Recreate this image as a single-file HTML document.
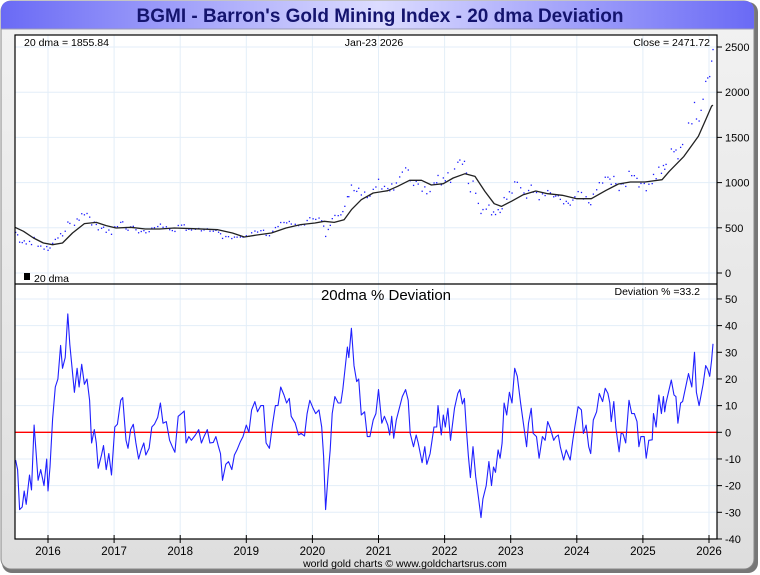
<!DOCTYPE html>
<html><head><meta charset="utf-8"><style>
html,body{margin:0;padding:0;background:#fff;}
svg{display:block;font-family:"Liberation Sans",sans-serif;}
</style></head><body>
<svg id="chart" width="760" height="575" viewBox="0 0 760 575">
<defs>
<linearGradient id="tg" x1="0" x2="1" y1="0" y2="0">
<stop offset="0" stop-color="#6a6af5"/><stop offset="0.5" stop-color="#dcdcff"/><stop offset="1" stop-color="#6a6af5"/>
</linearGradient>
<linearGradient id="bg" x1="0" x2="0" y1="0" y2="1">
<stop offset="0" stop-color="#f2f2f2"/><stop offset="1" stop-color="#dedede"/>
</linearGradient>
</defs>
<rect x="2" y="2" width="756" height="571" rx="10" fill="#777"/>
<rect x="1" y="1" width="753" height="568" rx="10" fill="url(#bg)" stroke="#888" stroke-width="1"/>
<path d="M1,29 L1,11 Q1,1 11,1 L744,1 Q754,1 754,11 L754,29 Z" fill="url(#tg)"/>
<line x1="1" y1="29" x2="754" y2="29" stroke="#9a9ab8"/>
<text x="380" y="22" text-anchor="middle" font-size="19" font-weight="bold" fill="#14146e">BGMI - Barron's Gold Mining Index - 20 dma Deviation</text>
<rect x="15" y="35" width="702" height="504" fill="#fff"/>
<g id="grid"></g>
<g id="marks"></g>
<rect x="15" y="35" width="702" height="504" fill="none" stroke="#000" stroke-width="1.2"/>
<line x1="15" y1="284" x2="717" y2="284" stroke="#000" stroke-width="1.2"/>
<text x="24" y="46" font-size="10.5" fill="#000">20 dma =  1855.84</text>
<text x="374" y="46" text-anchor="middle" font-size="10.5" fill="#000">Jan-23  2026</text>
<text x="710" y="46" text-anchor="end" font-size="10.5" fill="#000">Close = 2471.72</text>
<rect x="24" y="273" width="6" height="7" fill="#000"/>
<text x="34" y="282" font-size="10.5" fill="#000">20 dma</text>
<text x="386" y="300" text-anchor="middle" font-size="15" fill="#000">20dma  %  Deviation</text>
<text x="700" y="295" text-anchor="end" font-size="10.5" fill="#000">Deviation % =33.2</text>
<text x="405" y="567" text-anchor="middle" font-size="10.5" fill="#000">world gold charts © www.goldchartsrus.com</text>
</svg>
<script>
// ---- data ----
const yearTicks = [2016,2017,2018,2019,2020,2021,2022,2023,2024,2025,2026];
const priceTicks = [0,500,1000,1500,2000,2500];
const devTicks = [-40,-30,-20,-10,0,10,20,30,40,50];
const maDates = [2015.5,2015.63,2015.78,2015.93,2016.07,2016.22,2016.37,2016.55,2016.73,2016.88,2017.03,2017.25,2017.47,2017.69,2017.91,2018.2,2018.57,2018.79,2018.97,2019.16,2019.38,2019.6,2019.82,2020.04,2020.18,2020.33,2020.48,2020.59,2020.74,2020.92,2021.14,2021.29,2021.47,2021.65,2021.8,2021.98,2022.13,2022.31,2022.46,2022.61,2022.75,2022.86,2023.01,2023.19,2023.38,2023.56,2023.78,2024.0,2024.22,2024.44,2024.63,2024.81,2025.03,2025.29,2025.4,2025.62,2025.84,2025.95,2026.04,2026.06];
const maValues = [505,461,387,332,313,332,442,546,560,524,498,505,487,487,498,490,479,442,398,420,442,498,535,553,572,560,590,700,811,885,910,959,1025,1025,973,988,1051,1099,1069,903,767,737,793,866,907,877,859,822,822,914,984,1007,1007,1032,1125,1290,1512,1696,1846,1856];
const devDates = [2015.51,2015.54,2015.57,2015.61,2015.64,2015.67,2015.72,2015.75,2015.79,2015.85,2015.89,2015.94,2015.98,2016.0,2016.03,2016.07,2016.11,2016.15,2016.19,2016.22,2016.26,2016.3,2016.33,2016.4,2016.44,2016.47,2016.51,2016.55,2016.59,2016.63,2016.66,2016.7,2016.73,2016.76,2016.81,2016.84,2016.88,2016.92,2016.96,2017.01,2017.05,2017.1,2017.13,2017.18,2017.21,2017.25,2017.29,2017.33,2017.37,2017.41,2017.45,2017.48,2017.53,2017.57,2017.61,2017.66,2017.7,2017.74,2017.79,2017.84,2017.88,2017.92,2017.97,2018.02,2018.06,2018.09,2018.13,2018.17,2018.23,2018.28,2018.32,2018.36,2018.41,2018.45,2018.5,2018.54,2018.58,2018.61,2018.64,2018.69,2018.73,2018.78,2018.82,2018.86,2018.91,2018.95,2019.0,2019.04,2019.08,2019.13,2019.17,2019.22,2019.26,2019.3,2019.35,2019.4,2019.44,2019.48,2019.52,2019.57,2019.61,2019.65,2019.68,2019.74,2019.79,2019.83,2019.88,2019.92,2019.96,2020.01,2020.05,2020.1,2020.14,2020.17,2020.2,2020.24,2020.27,2020.3,2020.34,2020.39,2020.43,2020.46,2020.49,2020.53,2020.55,2020.59,2020.63,2020.67,2020.7,2020.74,2020.79,2020.83,2020.87,2020.92,2020.96,2021.0,2021.05,2021.09,2021.14,2021.17,2021.2,2021.23,2021.27,2021.32,2021.36,2021.41,2021.45,2021.48,2021.53,2021.57,2021.6,2021.66,2021.7,2021.73,2021.78,2021.84,2021.88,2021.9,2021.95,2021.98,2022.01,2022.05,2022.09,2022.15,2022.2,2022.23,2022.27,2022.3,2022.33,2022.36,2022.39,2022.43,2022.47,2022.51,2022.55,2022.58,2022.63,2022.67,2022.71,2022.74,2022.77,2022.81,2022.84,2022.87,2022.9,2022.94,2022.98,2023.02,2023.06,2023.1,2023.15,2023.2,2023.24,2023.27,2023.31,2023.34,2023.39,2023.43,2023.48,2023.52,2023.56,2023.6,2023.65,2023.68,2023.72,2023.75,2023.8,2023.84,2023.87,2023.9,2023.94,2023.97,2024.02,2024.07,2024.1,2024.14,2024.18,2024.21,2024.25,2024.3,2024.34,2024.39,2024.43,2024.47,2024.5,2024.52,2024.56,2024.59,2024.64,2024.67,2024.7,2024.74,2024.79,2024.83,2024.87,2024.91,2024.94,2024.97,2025.02,2025.05,2025.09,2025.14,2025.16,2025.2,2025.24,2025.28,2025.31,2025.33,2025.35,2025.43,2025.47,2025.5,2025.53,2025.57,2025.6,2025.69,2025.74,2025.78,2025.81,2025.85,2025.88,2025.91,2025.95,2025.98,2026.01,2026.04,2026.06];
const devValues = [-10.4,-14,-29,-28,-22,-27,-16,-21.6,2.7,-18,-14,-20,-10,-22,-13,5,17,20,32.6,24,28,44.4,33,15,24,17,25.5,18,20,12,-4,1,-4,-13.5,-8.5,-5,-14,-8,-16,2,3,12,13,-3,-6,1,3,-4,-10,-6.6,-4,-8.5,-6,2,3,5.6,11,3.4,4,-3,-5.4,-7.5,6,7,8,-4,-1.6,-3,-1,1,-4,-1.6,1,-4,-3.8,-1.6,-5.4,-8,-18,-12,-11,-14,-8.5,-6.6,-3.5,-1.6,2.7,0,8.4,11.5,7.7,10,10,-4,-6,3.4,10,10,17,14,11,12.7,6,3.4,-1,-0.4,-1.4,7,12,9,7,8.4,2,-9,-29,-15,-6.6,7,13.4,11,11,16,23,32,28,39,25,19,20,6.5,7.7,-1.6,-1.6,4.6,7,16,3.4,6,2.7,-1,6,-2.2,4.6,9.6,13.4,16,12,-0.4,-5.4,-1,-4,-11.4,-5.4,-12,-8,2,2,10,-1,6.5,2,9,-3,9,14.6,16,10.6,12.7,1,-9,-17,-5.4,-16.6,-24,-32,-25,-20,-11,-20,-13,-15,-6.6,-9.7,-4,11,6.5,15,11,24,21,11,2,-5.4,3.4,9,-0.4,-1.6,-9.7,-1.6,-3,4,1.5,-3,-1.8,-1,-5.4,-10.4,-6.6,-8.5,-10.4,-3,2,9.6,8.4,-0.4,2.7,-5.4,-8,4.6,7.7,14.6,11.5,16.5,14.6,11,4,11.5,2,-7.3,-0.4,-0.6,-4,12,7,7,4,-5.4,-1.6,-1.6,-9.7,-3,-2.8,7,2,14,7,13.4,7.7,11,19.6,14,13.4,3.4,11,11.5,22,17,30,15,10,14,18,25,23.6,21,27,33.2];

// ---- scales ----
const X0=15, X1=717;
function xScale(t){ return 48 + (t-2016)*66.1; }
function yPrice(v){ return 273 - v*0.0904; }
function yDev(v){ return 432.3 - v*2.667; }
function interpMA(t){
  if(t<=maDates[0]) return maValues[0];
  for(let i=1;i<maDates.length;i++){
    if(t<=maDates[i]){ const f=(t-maDates[i-1])/(maDates[i]-maDates[i-1]); return maValues[i-1]+f*(maValues[i]-maValues[i-1]); }
  }
  return maValues[maValues.length-1];
}
const NS="http://www.w3.org/2000/svg";
function mk(tag,attrs,parent){ const e=document.createElementNS(NS,tag); for(const k in attrs) e.setAttribute(k,attrs[k]); parent.appendChild(e); return e; }
const svg=document.getElementById('chart');
const grid=document.getElementById('grid');
const marks=document.getElementById('marks');

// vertical grid + x ticks
yearTicks.forEach(y=>{
  const x=xScale(y);
  const g=mk('line',{x1:x,x2:x,y1:35,y2:539,stroke:'#e3eef8','stroke-width':1},grid);
  
  
  const tk=mk('line',{x1:x,x2:x,y1:535,y2:543,stroke:'#000','stroke-width':1},svg);
  
  
  const t=mk('text',{x:x,y:555,'text-anchor':'middle','font-size':11.5,fill:'#000'},svg);
  t.textContent=y;
  
  
});
// price grid + ticks
priceTicks.forEach(v=>{
  const y=yPrice(v);
  const g=mk('line',{x1:X0,x2:X1,y1:y,y2:y,stroke:'#e3eef8','stroke-width':1},grid);
  
  
  const tk=mk('line',{x1:717,x2:722,y1:y,y2:y,stroke:'#000'},svg);
  
  
  const t=mk('text',{x:725,y:y+4,'font-size':11,fill:'#000'},svg);
  t.textContent=v;
  
  
});
// dev grid + ticks
devTicks.forEach(v=>{
  const y=yDev(v);
  const g=mk('line',{x1:X0,x2:X1,y1:y,y2:y,stroke:'#e3eef8','stroke-width':1},grid);
  
  
  const tk=mk('line',{x1:717,x2:722,y1:y,y2:y,stroke:'#000'},svg);
  
  
  const t=mk('text',{x:725,y:y+4,'font-size':11,fill:'#000'},svg);
  t.textContent=v;
  
  
});

// close dots (close = 20dma * (1 + deviation/100))
devDates.forEach((t,i)=>{
  const c=interpMA(t)*(1+devValues[i]/100);
  const d=mk('rect',{x:xScale(t)-0.6,y:yPrice(c)-0.6,width:1.3,height:1.3,fill:'#1a1aff'},marks);
  
  
});
// 20dma line
let p='';
maDates.forEach((t,i)=>{ p+=(i?'L':'M')+xScale(t).toFixed(1)+','+yPrice(maValues[i]).toFixed(1); });
const ma=mk('path',{d:p,fill:'none',stroke:'#222','stroke-width':1.3,'stroke-linejoin':'round'},marks);



// zero line
const z=mk('line',{x1:X0,x2:X1,y1:yDev(0),y2:yDev(0),stroke:'#f00','stroke-width':1.3},marks);


// deviation line
let q='';
devDates.forEach((t,i)=>{ q+=(i?'L':'M')+xScale(t).toFixed(1)+','+yDev(devValues[i]).toFixed(1); });
const dv=mk('path',{d:q,fill:'none',stroke:'#2020ff','stroke-width':1.1,'stroke-linejoin':'round'},marks);


</script>
</body></html>
